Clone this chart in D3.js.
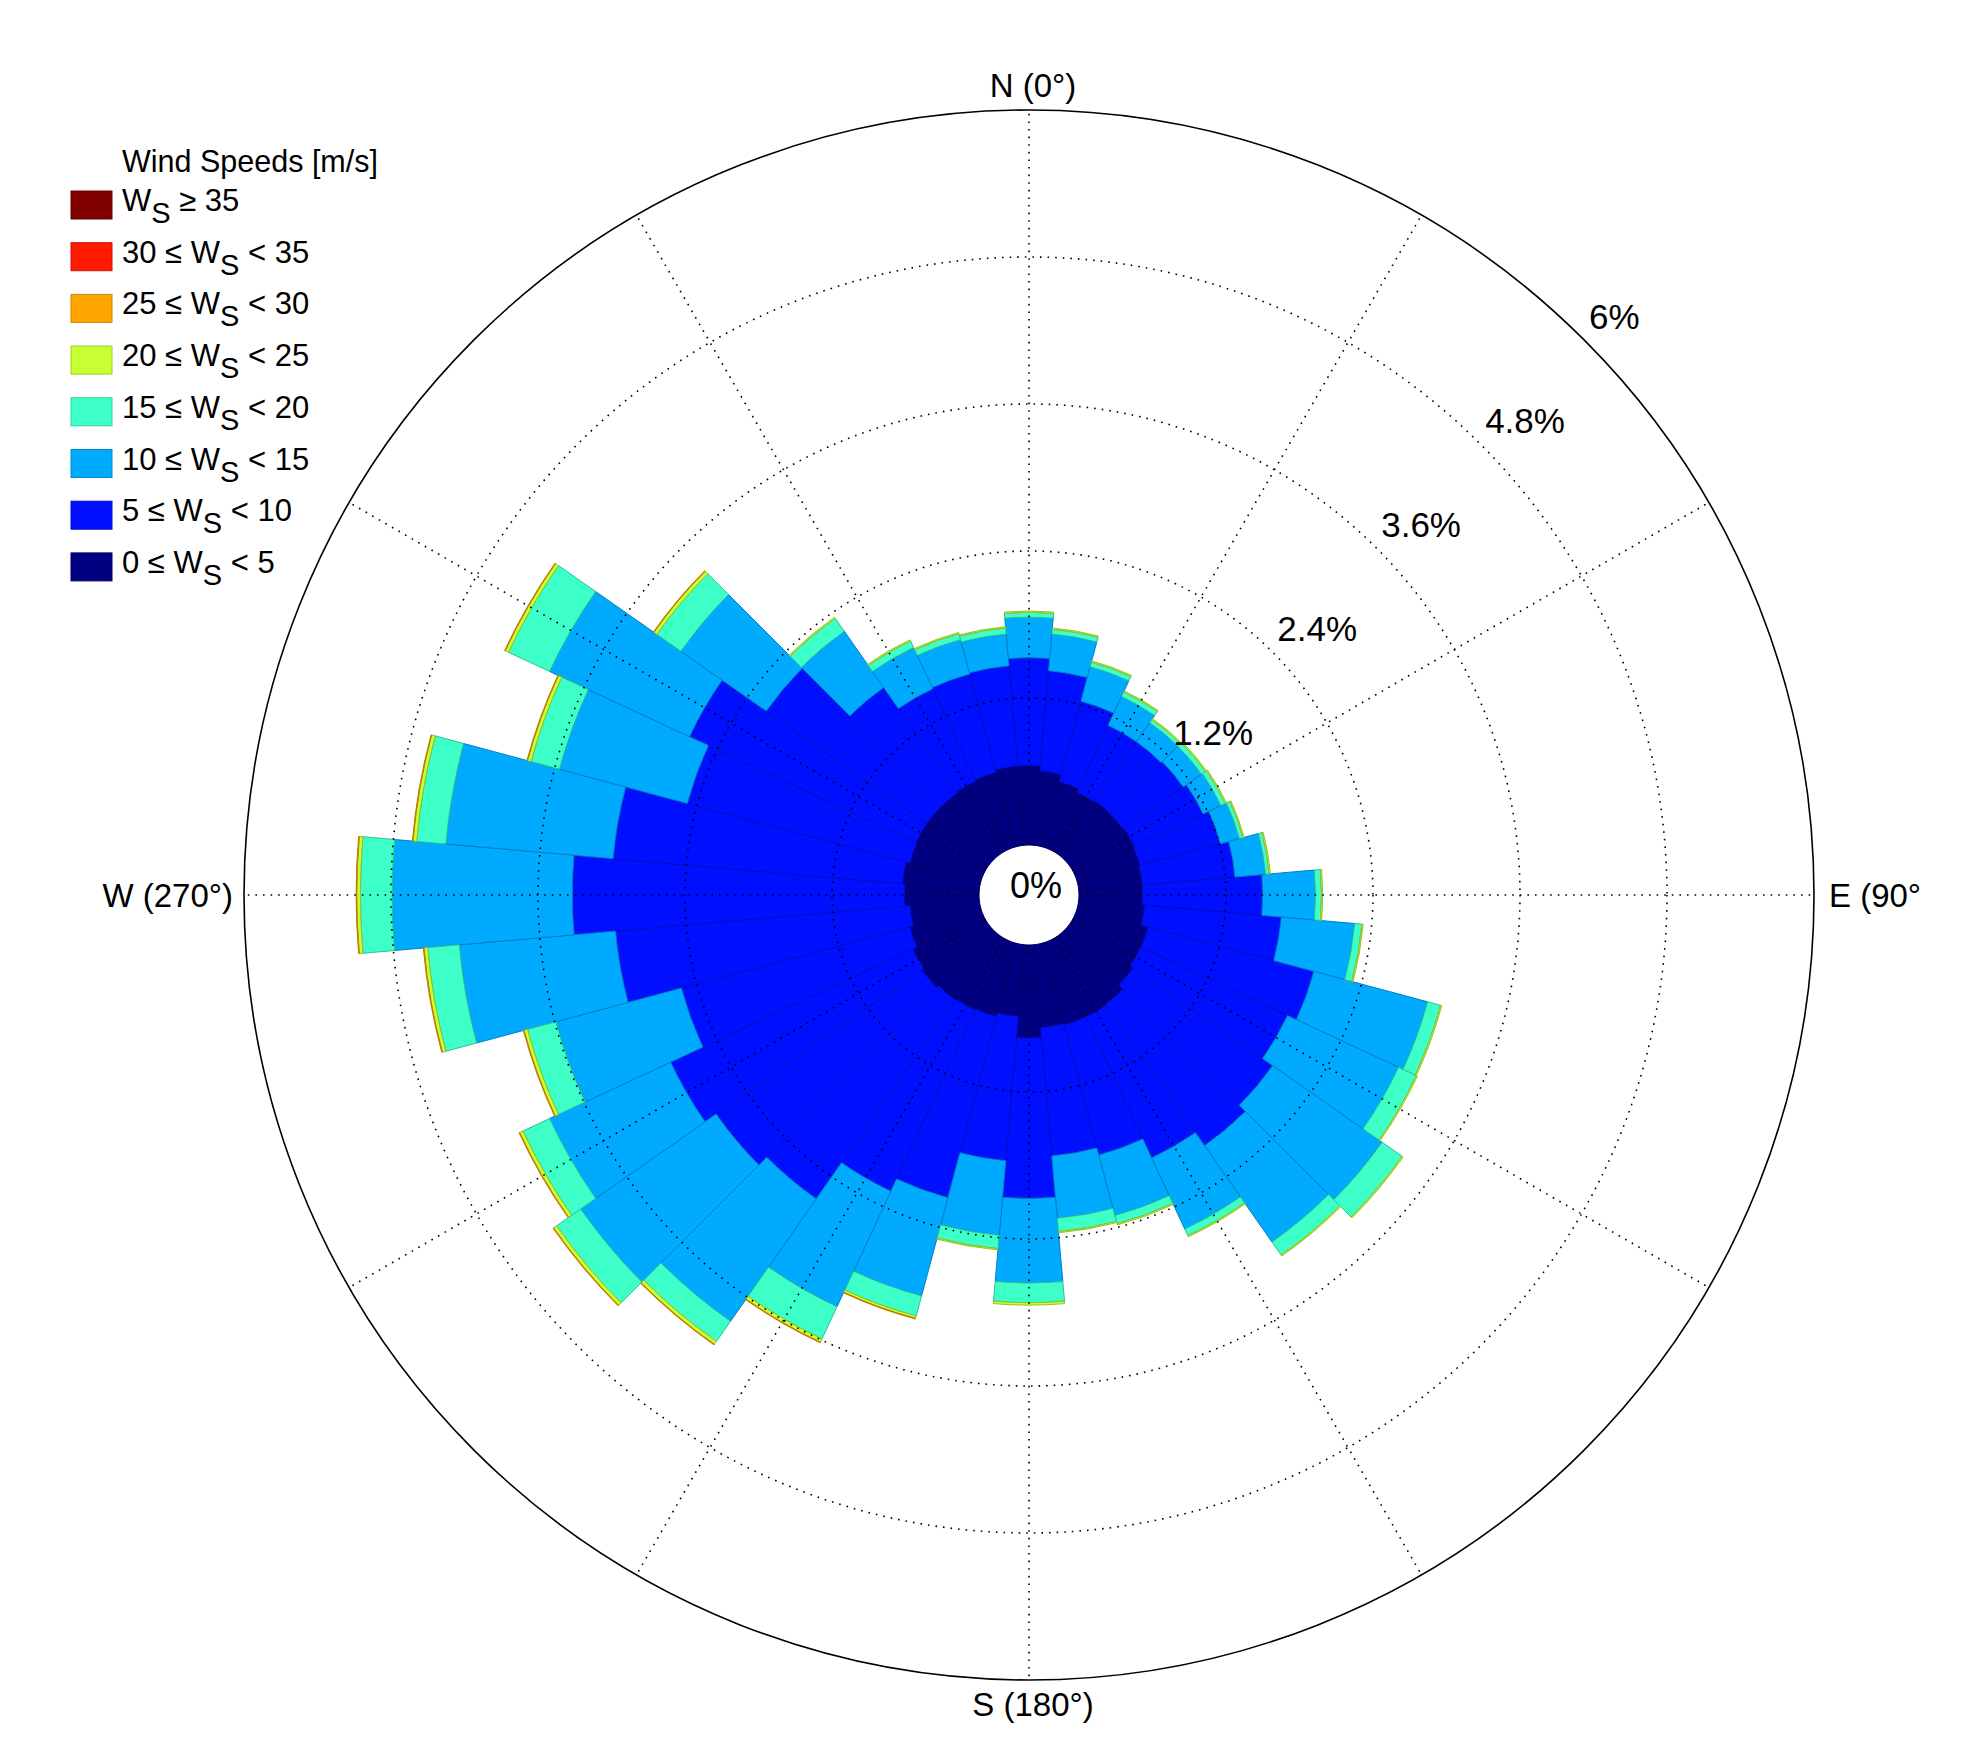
<!DOCTYPE html>
<html><head><meta charset="utf-8">
<script src="https://cdn.jsdelivr.net/npm/d3@7"></script>
<style>body{margin:0;background:#fff}svg{display:block}text{font-family:"Liberation Sans",Arial,sans-serif}</style>
</head><body>
<svg id="c" width="1983" height="1759"></svg>
<script>
// Directions (degrees, clockwise from N)
const directions = d3.range(0, 360, 10);
// Frequency (%) per speed bin, per direction
const ws0_5   = [.65,.61,.55,.52,.53,.53,.54,.53,.52,.52,.54,.60,.60,.63,.68,.69,.69,.68,.76,.59,.62,.63,.64,.66,.64,.60,.57,.61,.63,.60,.61,.61,.61,.62,.63,.65];
const ws5_10  = [.88,.82,.68,.60,.59,.60,.62,.68,.76,.98,1.12,1.40,1.32,1.39,1.41,1.27,1.10,1.05,1.31,1.18,1.53,1.63,1.98,2.05,2.18,1.93,2.41,2.71,2.37,1.88,2.04,1.60,1.05,.83,.83,.82];
const ws10_15 = [.33,.30,.29,.26,.19,.18,.16,.16,.25,.43,.60,.96,1.00,1.09,.96,.64,.51,.51,.69,.61,.83,1.04,1.22,1.35,1.09,1.06,1.28,1.47,1.37,1.08,1.26,.85,.56,.37,.29,.26];
const ws15_20 = [.04,.04,.04,.04,.03,.04,.04,.03,.03,.05,.06,.11,.16,.20,.13,.06,.07,.11,.16,.11,.17,.29,.20,.24,.24,.24,.26,.26,.24,.24,.37,.24,.13,.06,.05,.05];
const ws20_25 = [.01,.01,.01,.01,.01,.01,.01,.01,.01,.01,.01,.01,.01,.01,.01,.01,.01,.01,.02,.01,.02,.03,.03,.03,.03,.03,.03,.03,.03,.03,.03,.03,.01,.01,.01,.01];
const ws25_30 = [0,0,0,0,0,0,0,0,0,0,0,0,0,0,0,0,0,0,0,0,.005,.005,.005,.005,.005,.005,.005,.005,.005,.005,.005,.005,0,0,0,0];
const ws30_35 = directions.map(()=>0);
const ws35    = directions.map(()=>0);
const binLabels = [["0 ≤ W","S"," < 5"],["5 ≤ W","S"," < 10"],["10 ≤ W","S"," < 15"],["15 ≤ W","S"," < 20"],["20 ≤ W","S"," < 25"],["25 ≤ W","S"," < 30"],["30 ≤ W","S"," < 35"],["W","S"," ≥ 35"]];
const binColors = ["#000080","#0010ff","#00aaff","#3dffc8","#c8ff32","#ffa500","#ff1a00","#800000"];
const ringTicks = [1.2, 2.4, 3.6, 4.8, 6];
const ringLabels = ["1.2%","2.4%","3.6%","4.8%","6%"];
const axisLabels = ["N (0°)","E (90°)","S (180°)","W (270°)"];

const series = [ws0_5,ws5_10,ws10_15,ws15_20,ws20_25,ws25_30,ws30_35,ws35];
const rows = directions.map((d,i)=>{const o={dir:d}; series.forEach((s,k)=>o["b"+k]=s[i]); return o;});
const keys = series.map((s,k)=>"b"+k);
const stacked = d3.stack().keys(keys)(rows);

const svg = d3.select("#c");
svg.append("defs").append("clipPath").attr("id","clip").append("rect").attr("x",0).attr("y",0).attr("width",1920).attr("height",1759);
const cx=1029, cy=895;
const r = d3.scaleLinear().domain([0,6]).range([50,785]);
const g = svg.append("g").attr("transform",`translate(${cx},${cy})`);
const step = Math.PI/18;
const arc = d3.arc();

stacked.forEach((layer,k)=>{
  g.append("g").selectAll("path").data(layer.filter(d=>d[1]-d[0]>0)).join("path")
    .attr("d",d=>{const a=d.data.dir*Math.PI/180; return arc({innerRadius:r(d[0]),outerRadius:r(d[1]),startAngle:a-step/2,endAngle:a+step/2});})
    .attr("fill",binColors[k]).attr("stroke",d3.color(binColors[k]).darker(0.8)).attr("stroke-width",1);
});

// grid
const grid = g.append("g").attr("fill","none").attr("stroke","#000");
ringTicks.slice(0,-1).forEach(t=>grid.append("circle").attr("r",r(t)).attr("stroke-width",1.6).attr("stroke-dasharray","1.6,6"));
grid.append("circle").attr("r",r(6)).attr("stroke-width",1.6);
d3.range(0,360,30).forEach(a=>{const t=a*Math.PI/180;
  grid.append("line").attr("x1",r(0)*Math.sin(t)).attr("y1",-r(0)*Math.cos(t)).attr("x2",r(6)*Math.sin(t)).attr("y2",-r(6)*Math.cos(t))
   .attr("stroke-width",1.6).attr("stroke-dasharray","1.6,6");});

// ring labels
ringTicks.forEach((t,i)=>{const a=Math.PI/4, rr=r(t);
  g.append("text").attr("x",rr*Math.sin(a)+5).attr("y",-rr*Math.cos(a)-23).attr("dy","0.35em").attr("text-anchor","start").attr("font-size",35).text(ringLabels[i]);});
g.append("text").attr("x",7).attr("y",-10).attr("dy","0.35em").attr("text-anchor","middle").attr("font-size",36).text("0%");

// axis labels
const ax = svg.append("g").attr("clip-path","url(#clip)").attr("font-size",33);
ax.append("text").attr("x",cx+4).attr("y",97).attr("text-anchor","middle").text(axisLabels[0]);
ax.append("text").attr("x",1829).attr("y",cy).attr("dy","0.35em").attr("text-anchor","start").text(axisLabels[1]);
ax.append("text").attr("x",cx+4).attr("y",1716).attr("text-anchor","middle").text(axisLabels[2]);
ax.append("text").attr("x",233).attr("y",cy).attr("dy","0.35em").attr("text-anchor","end").text(axisLabels[3]);

// legend
const lg = svg.append("g");
lg.append("text").attr("x",122).attr("y",172).attr("font-size",30.5).text("Wind Speeds [m/s]");
const order = d3.range(7,-1,-1);
order.forEach((k,i)=>{const y=191+i*51.7;
  lg.append("rect").attr("x",71).attr("y",y).attr("width",41).attr("height",28).attr("fill",binColors[k]).attr("stroke",d3.color(binColors[k]).darker(0.6)).attr("stroke-width",1);
  const t=lg.append("text").attr("x",122).attr("y",y+20).attr("font-size",31);
  t.append("tspan").text(binLabels[k][0]);
  t.append("tspan").attr("dy",12).attr("font-size",29).text(binLabels[k][1]);
  t.append("tspan").attr("dy",-12).text(binLabels[k][2]);
});
</script></body></html>
